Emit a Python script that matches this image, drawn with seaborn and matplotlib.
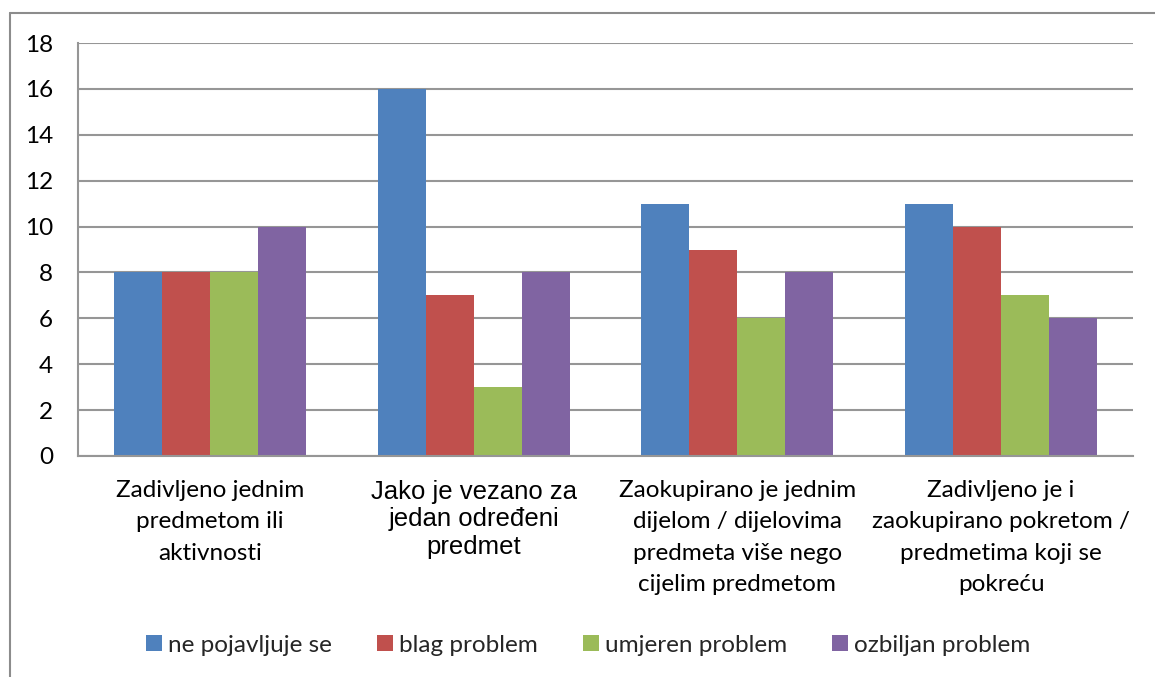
import matplotlib
matplotlib.use("Agg")
import matplotlib.pyplot as plt
import seaborn as sns
import pandas as pd
from matplotlib.lines import Line2D

categories = [
    "Zadivljeno jednim\npredmetom ili\naktivnosti",
    "Jako je vezano za\njedan određeni\npredmet",
    "Zaokupirano je jednim\ndijelom / dijelovima\npredmeta više nego\ncijelim predmetom",
    "Zadivljeno je i\nzaokupirano pokretom /\npredmetima koji se\npokreću",
]
series = ["ne pojavljuje se", "blag problem", "umjeren problem", "ozbiljan problem"]
ne_pojavljuje = [8, 16, 11, 11]
blag = [8, 7, 9, 10]
umjeren = [8, 3, 6, 7]
ozbiljan = [10, 8, 8, 6]
yticks = [0, 2, 4, 6, 8, 10, 12, 14, 16, 18]
colors = ["#4F81BD", "#C0504D", "#9BBB59", "#8064A2"]

rows = []
for s, vals in zip(series, [ne_pojavljuje, blag, umjeren, ozbiljan]):
    for c, v in zip(categories, vals):
        rows.append({"cat": c, "series": s, "value": v})
df = pd.DataFrame(rows)

sns.set_style("white")
plt.rcParams["font.family"] = ["Lato", "DejaVu Sans"]

FS = 17.5
W, H = 1155, 677
fig = plt.figure(figsize=(W / 100, H / 100), dpi=100)
ax = fig.add_axes([78 / W, 1 - 456 / H, (1133 - 78) / W, (456 - 43) / H])

sns.barplot(data=df, x="cat", y="value", hue="series", order=categories,
            hue_order=series, palette=colors, width=0.728, saturation=1,
            edgecolor="none", linewidth=0, ax=ax, legend=True)

ax.set_ylim(0, 18)
ax.set_xlim(-0.5, 3.5)
ax.set_yticks(yticks)
ax.set_yticklabels([str(t) for t in yticks])
ax.set_xticks(range(len(categories)))
ax.set_xticklabels(categories)
ax.yaxis.grid(True, color="#969696", linewidth=1.5)
ax.set_axisbelow(True)
ax.set_xlabel("")
ax.set_ylabel("")
for side in ["top", "right"]:
    ax.spines[side].set_visible(False)
for side in ["left", "bottom"]:
    ax.spines[side].set_color("#969696")
    ax.spines[side].set_linewidth(1.5)
ax.tick_params(axis="y", length=0, pad=18, labelsize=FS, labelcolor="black")
ax.tick_params(axis="x", length=0, pad=17, labelsize=FS, labelcolor="black")

leg = ax.legend(loc="center", bbox_to_anchor=(588 / W, 1 - 645 / H),
                bbox_transform=fig.transFigure, ncol=4, frameon=False,
                fontsize=FS, handlelength=0.66, handleheight=0.66,
                handletextpad=0.25, columnspacing=1.85)

fig.canvas.draw()
labels = ax.get_xticklabels()
for i, lbl in enumerate(labels):
    lbl.set_verticalalignment("top")
    if i == 1:
        lbl.set_fontfamily(["Liberation Sans", "DejaVu Sans"])
        lbl.set_fontsize(18.5)
        lbl.set_linespacing(1.19)
    else:
        lbl.set_linespacing(1.62)

# outer chart frame (only left and top visible in the image)
fig.add_artist(Line2D([10 / W, 10 / W], [1 - 13 / H, 0], transform=fig.transFigure,
                      color="#8c8c8c", linewidth=1.5))
fig.add_artist(Line2D([10 / W, 1], [1 - 13 / H, 1 - 13 / H], transform=fig.transFigure,
                      color="#8c8c8c", linewidth=1.5))

fig.savefig("out.png", dpi=100)
